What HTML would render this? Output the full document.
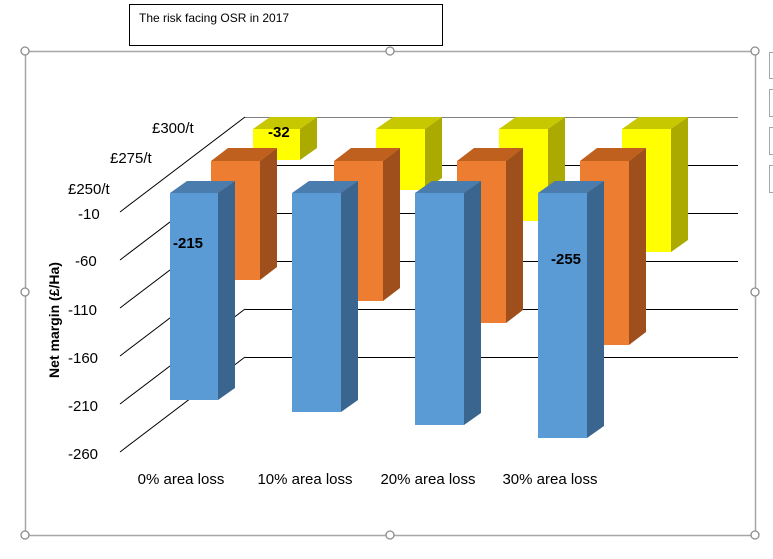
<!DOCTYPE html>
<html><head><style>
body{margin:0;background:#fff;}
svg{display:block;font-family:"Liberation Sans","DejaVu Sans",sans-serif;}
</style></head><body>
<svg width="773" height="559" viewBox="0 0 773 559" xmlns="http://www.w3.org/2000/svg">
<rect x="129.5" y="4.5" width="313" height="41" fill="#fff" stroke="#000"/>
<text x="139" y="22" font-size="12">The risk facing OSR in 2017</text>
<rect x="25.5" y="51.5" width="730" height="484" fill="#fff" stroke="#a6a6a6" stroke-width="1.5"/>
<g fill="#fff" stroke="#a6a6a6" stroke-width="1">
<rect x="769.5" y="52.5" width="6" height="26"/><rect x="769.5" y="89.5" width="6" height="27"/>
<rect x="769.5" y="127.5" width="6" height="27"/><rect x="769.5" y="165.5" width="6" height="27"/>
</g>
<g fill="#fff" stroke="#8c8c8c" stroke-width="1.3">
<circle cx="25" cy="51" r="4"/><circle cx="390" cy="51" r="4"/><circle cx="755" cy="51" r="4"/>
<circle cx="25" cy="292" r="4"/><circle cx="755" cy="292" r="4"/>
<circle cx="25" cy="535" r="4"/><circle cx="390" cy="535" r="4"/><circle cx="755" cy="535" r="4"/>
</g>
<g stroke="#000" stroke-width="1">
<line x1="245" y1="117.5" x2="738" y2="117.5" stroke="#808080"/>
<line x1="245" y1="165.5" x2="738" y2="165.5"/>
<line x1="245" y1="213.5" x2="738" y2="213.5"/>
<line x1="245" y1="261.5" x2="738" y2="261.5"/>
<line x1="245" y1="309.5" x2="738" y2="309.5"/>
<line x1="245" y1="357.5" x2="738" y2="357.5"/>
<line x1="120" y1="212" x2="245" y2="117"/>
<line x1="120" y1="260" x2="245" y2="165"/>
<line x1="120" y1="308" x2="245" y2="213"/>
<line x1="120" y1="356" x2="245" y2="261"/>
<line x1="120" y1="404" x2="245" y2="309"/>
<line x1="120" y1="452" x2="245" y2="357"/>
</g>
<g font-size="15" fill="#000">
<text x="152" y="133">£300/t</text>
<text x="110" y="163">£275/t</text>
<text x="68" y="194">£250/t</text>
<text x="78" y="219">-10</text>
<text x="75" y="266">-60</text>
<text x="68" y="315">-110</text>
<text x="68" y="363">-160</text>
<text x="68" y="411">-210</text>
<text x="68" y="459">-260</text>
</g>
<text transform="translate(59,320) rotate(-90)" text-anchor="middle" font-size="14" font-weight="bold">Net margin (£/Ha)</text>
<!-- yellow -->
<g>
<polygon points="253,129 270,117 317,117 300,129" fill="#c8c800"/><polygon points="300,129 317,117 317,148 300,160" fill="#aaaa00"/><rect x="253" y="129" width="47" height="31" fill="#ffff00"/>
<polygon points="376,129 393,117 442,117 425,129" fill="#c8c800"/><polygon points="425,129 442,117 442,178 425,190" fill="#aaaa00"/><rect x="376" y="129" width="49" height="61" fill="#ffff00"/>
<polygon points="499,129 516,117 565,117 548,129" fill="#c8c800"/><polygon points="548,129 565,117 565,209 548,221" fill="#aaaa00"/><rect x="499" y="129" width="49" height="92" fill="#ffff00"/>
<polygon points="622,129 639,117 688,117 671,129" fill="#c8c800"/><polygon points="671,129 688,117 688,240 671,252" fill="#aaaa00"/><rect x="622" y="129" width="49" height="123" fill="#ffff00"/>
</g>
<!-- orange -->
<g>
<polygon points="211,161 228,148 277,148 260,161" fill="#c0601f"/><polygon points="260,161 277,148 277,267 260,280" fill="#9e4f1c"/><rect x="211" y="161" width="49" height="119" fill="#ed7d31"/>
<polygon points="334,161 351,148 400,148 383,161" fill="#c0601f"/><polygon points="383,161 400,148 400,288 383,301" fill="#9e4f1c"/><rect x="334" y="161" width="49" height="140" fill="#ed7d31"/>
<polygon points="457,161 474,148 523,148 506,161" fill="#c0601f"/><polygon points="506,161 523,148 523,310 506,323" fill="#9e4f1c"/><rect x="457" y="161" width="49" height="162" fill="#ed7d31"/>
<polygon points="580,161 597,148 646,148 629,161" fill="#c0601f"/><polygon points="629,161 646,148 646,332 629,345" fill="#9e4f1c"/><rect x="580" y="161" width="49" height="184" fill="#ed7d31"/>
</g>
<!-- blue -->
<g>
<polygon points="170,193 187,181 235,181 218,193" fill="#4a7cad"/><polygon points="218,193 235,181 235,388 218,400" fill="#3a658f"/><rect x="170" y="193" width="48" height="207" fill="#5b9bd5"/>
<polygon points="292,193 309,181 358,181 341,193" fill="#4a7cad"/><polygon points="341,193 358,181 358,400 341,412" fill="#3a658f"/><rect x="292" y="193" width="49" height="219" fill="#5b9bd5"/>
<polygon points="415,193 432,181 481,181 464,193" fill="#4a7cad"/><polygon points="464,193 481,181 481,413 464,425" fill="#3a658f"/><rect x="415" y="193" width="49" height="232" fill="#5b9bd5"/>
<polygon points="538,193 555,181 604,181 587,193" fill="#4a7cad"/><polygon points="587,193 604,181 604,426 587,438" fill="#3a658f"/><rect x="538" y="193" width="49" height="245" fill="#5b9bd5"/>
</g>
<g font-size="15" font-weight="bold" fill="#000">
<text x="173" y="248">-215</text>
<text x="268" y="137">-32</text>
<text x="551" y="264">-255</text>
</g>
<g font-size="15" fill="#000" text-anchor="middle">
<text x="181" y="484">0% area loss</text>
<text x="305" y="484">10% area loss</text>
<text x="428" y="484">20% area loss</text>
<text x="550" y="484">30% area loss</text>
</g>
</svg>
</body></html>
